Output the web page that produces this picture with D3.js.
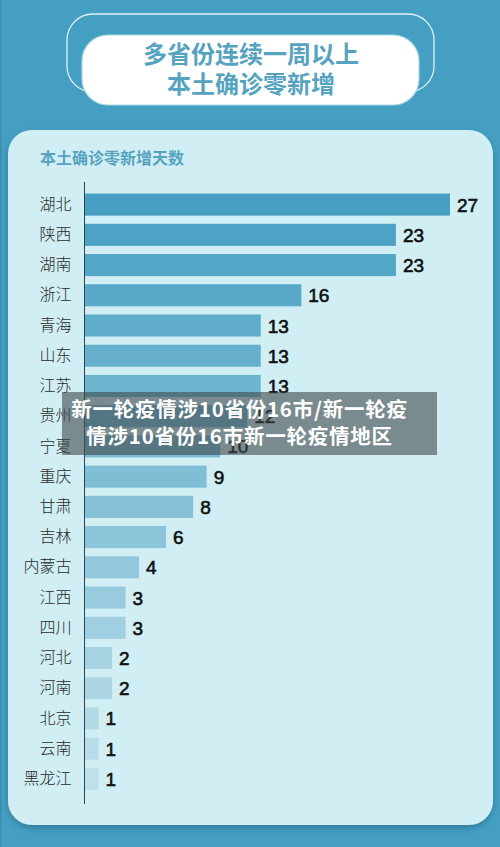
<!DOCTYPE html>
<html>
<head>
<meta charset="utf-8">
<title>本土确诊零新增</title>
<script src="https://d3js.org/d3.v7.min.js"></script>
<style>
html, body { margin: 0; padding: 0; background: #459fc3; }
svg { display: block; }
.cjk { font-family: "Noto Sans CJK SC", sans-serif; }
</style>
</head>
<body>
<script>
var provinces = ["湖北","陕西","湖南","浙江","青海","山东","江苏","贵州","宁夏","重庆","甘肃","吉林","内蒙古","江西","四川","河北","河南","北京","云南","黑龙江"];
var days = [27,23,23,16,13,13,13,12,10,9,8,6,4,3,3,2,2,1,1,1];
var titleLines = ["多省份连续一周以上","本土确诊零新增"];
var subtitle = "本土确诊零新增天数";
var captionLines = ["新一轮疫情涉10省份16市/新一轮疫","情涉10省份16市新一轮疫情地区"];

var width = 500, height = 847;
var svg = d3.select("body").append("svg").attr("width", width).attr("height", height);

var defs = svg.append("defs");
var shadow = defs.append("filter").attr("id", "cardShadow")
  .attr("x", "-5%").attr("y", "-5%").attr("width", "110%").attr("height", "110%");
shadow.append("feDropShadow").attr("dx", 0).attr("dy", 3).attr("stdDeviation", 3)
  .attr("flood-color", "#1d5f7c").attr("flood-opacity", 0.55);

svg.append("rect").attr("width", width).attr("height", height).attr("fill", "#459fc3");
svg.append("rect").attr("width", 1.5).attr("height", height).attr("fill", "#3d8fb0");

// title badge
svg.append("rect").attr("x", 67).attr("y", 14).attr("width", 367).attr("height", 78).attr("rx", 26)
  .attr("fill", "none").attr("stroke", "#dff1f5").attr("stroke-width", 1.3);
svg.append("rect").attr("x", 82).attr("y", 35).attr("width", 337).attr("height", 70).attr("rx", 26)
  .attr("fill", "#fff").attr("stroke", "#a9dbe2").attr("stroke-width", 1.2);
svg.selectAll("text.title").data(titleLines).enter().append("text")
  .attr("class", "title cjk")
  .attr("x", 251)
  .attr("y", function(d, i) { return 63 + i * 30; })
  .attr("text-anchor", "middle")
  .attr("font-size", 24)
  .attr("font-weight", 700)
  .attr("fill", "#56a3bf")
  .text(function(d) { return d; });

// card
svg.append("rect").attr("x", 8).attr("y", 130).attr("width", 485).attr("height", 695).attr("rx", 24)
  .attr("fill", "#d0eef3").attr("filter", "url(#cardShadow)");
svg.append("text").attr("class", "cjk")
  .attr("x", 40).attr("y", 164)
  .attr("font-size", 16).attr("font-weight", 700).attr("fill", "#56a3bf")
  .text(subtitle);

// chart
var x = d3.scaleLinear().domain([0, 27]).range([85, 450]);
var y = d3.scaleBand().domain(provinces).range([189.5, 794]).paddingInner(0.27).paddingOuter(0.135);
var shade = d3.scaleLinear().domain([0, provinces.length - 1]).range(["#479fc3", "#bfe0ea"]);

svg.selectAll("rect.bar").data(days).enter().append("rect")
  .attr("class", "bar")
  .attr("x", x(0))
  .attr("y", function(d, i) { return y(provinces[i]); })
  .attr("width", function(d) { return x(d) - x(0); })
  .attr("height", y.bandwidth())
  .attr("fill", function(d, i) { return shade(i); });

svg.selectAll("text.val").data(days).enter().append("text")
  .attr("class", "val")
  .attr("x", function(d) { return x(d) + 7; })
  .attr("y", function(d, i) { return y(provinces[i]) + y.bandwidth() / 2 + 7; })
  .attr("font-family", "'Liberation Sans', Arial, sans-serif")
  .attr("font-size", 19)
  .attr("stroke", "#111").attr("stroke-width", 0.6)
  .attr("fill", "#111")
  .text(function(d) { return d; });

var axis = svg.append("g").attr("transform", "translate(84.5,0)")
  .call(d3.axisLeft(y).tickSize(0).tickPadding(13));
axis.select(".domain").attr("d", "M0,182V804").attr("stroke", "#2d4450").attr("stroke-width", 1);
axis.selectAll("text")
  .attr("class", "cjk")
  .attr("font-family", "'Noto Sans CJK SC', sans-serif")
  .attr("font-size", 16)
  .attr("font-weight", 300)
  .attr("fill", "#2a2a2a");

// caption strip on top of the picture
svg.append("rect").attr("x", 62).attr("y", 392).attr("width", 375).attr("height", 63)
  .attr("fill", "#3f4a4d").attr("fill-opacity", 0.6);
svg.selectAll("text.cap").data(captionLines).enter().append("text")
  .attr("class", "cap cjk")
  .attr("x", 239.5)
  .attr("y", function(d, i) { return 417 + i * 26.5; })
  .attr("text-anchor", "middle")
  .attr("font-size", 20.5)
  .attr("letter-spacing", 0.75)
  .attr("font-weight", 700)
  .attr("fill", "#fff")
  .text(function(d) { return d; });
</script>
</body>
</html>
